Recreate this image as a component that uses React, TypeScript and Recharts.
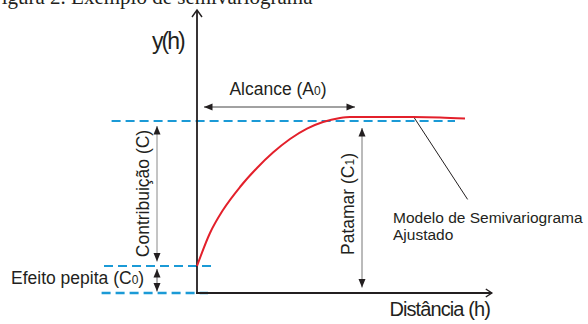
import React from "react"
import { ComposedChart, Line, XAxis, YAxis, ReferenceLine, ReferenceDot } from "recharts"

// fitted semivariogram model
const distance = [0, 0.65, 1.3, 2.15, 3.0, 3.8, 4.65, 5.5, 6.3, 7.15, 7.65, 9.15, 10.8, 12.15, 13.4]
const semivariance = [1.35, 3.0, 4.15, 5.3, 6.25, 7.02, 7.7, 8.22, 8.55, 8.75, 8.8, 8.8, 8.8, 8.78, 8.72]

// model parameters
const nugget = 1.35 // C0
const sill = 8.6 // C0 + C
const range = 7.9 // A0

const title = "Figura 2. Exemplo de semivariograma"
const yLabel = "y(h)"
const xLabel = "Distância (h)"
const modelLabel = ["Modelo de Semivariograma", "Ajustado"]

const data = distance.map((h, i) => ({ h, gamma: semivariance[i] }))

const W = 588
const H = 324
const PX = 20 // pixels per unit
const ORIGIN_X = 197
const ORIGIN_Y = 293

const ink = "#231f20"
const blue = "#1b9ad6"
const red = "#e3202b"
const sans = "'Liberation Sans', Arial, sans-serif"

type Head = "tri" | "chev" | null

const arrow =
  (start: Head, end: Head, shaft: string, gapStart = 0, gapEnd = 0, w = 1, chevL = 7, chevW = 5) =>
  (p: any) => {
    const dx = p.x2 - p.x1
    const dy = p.y2 - p.y1
    const len = Math.hypot(dx, dy) || 1
    const ux = dx / len
    const uy = dy / len
    const ax = p.x1 + ux * gapStart
    const ay = p.y1 + uy * gapStart
    const bx = p.x2 - ux * gapEnd
    const by = p.y2 - uy * gapEnd
    const head = (tx: number, ty: number, dx: number, dy: number, kind: Head) => {
      const L = kind === "tri" ? 8.5 : chevL
      const hw = kind === "tri" ? 3.5 : chevW
      const cx = tx - dx * L
      const cy = ty - dy * L
      const nx = -dy
      const ny = dx
      const pts = `${cx + nx * hw},${cy + ny * hw} ${tx},${ty} ${cx - nx * hw},${cy - ny * hw}`
      return kind === "tri" ? (
        <polygon points={pts} fill={ink} />
      ) : (
        <polyline points={pts} fill="none" stroke={ink} strokeWidth={w * 0.8} />
      )
    }
    return (
      <g>
        <line x1={ax} y1={ay} x2={bx} y2={by} stroke={shaft} strokeWidth={w} />
        {start && head(ax, ay, -ux, -uy, start)}
        {end && head(bx, by, ux, uy, end)}
      </g>
    )
  }

const label =
  (content: React.ReactNode, opts: { size?: number; anchor?: string; rotate?: boolean; spacing?: number; font?: string } = {}) =>
  (p: any) =>
    (
      <text
        x={p.cx}
        y={p.cy}
        fill={ink}
        fontFamily={opts.font ?? sans}
        fontSize={opts.size ?? 17.5}
        letterSpacing={opts.spacing ?? 0}
        textAnchor={opts.anchor ?? "start"}
        transform={opts.rotate ? `rotate(-90 ${p.cx} ${p.cy})` : undefined}
      >
        {content}
      </text>
    )

const sub = (t: string) => <tspan fontSize={12}>{t}</tspan>

export default function App() {
  return (
    <div style={{ position: "absolute", left: 0, top: 0, width: W, height: H }}>
      <ComposedChart width={W} height={H} data={data} margin={{ top: 0, right: 0, bottom: 0, left: 0 }}>
        <XAxis dataKey="h" type="number" hide allowDataOverflow domain={[-ORIGIN_X / PX, (W - ORIGIN_X) / PX]} />
        <YAxis type="number" hide allowDataOverflow domain={[-(H - ORIGIN_Y) / PX, ORIGIN_Y / PX]} />

        {/* dashed guides */}
        <ReferenceLine ifOverflow="visible" segment={[{ x: -4.27, y: sill }, { x: 12.9, y: sill }]} stroke={blue} strokeWidth={2.2} strokeDasharray="9 5" />
        <ReferenceLine ifOverflow="visible" segment={[{ x: -4.65, y: nugget }, { x: 0.8, y: nugget }]} stroke={blue} strokeWidth={2.2} strokeDasharray="9 5" />
        <ReferenceLine ifOverflow="visible" segment={[{ x: -4.77, y: 0 }, { x: 0.55, y: 0 }]} stroke={blue} strokeWidth={2.4} strokeDasharray="9 5" />

        {/* axes */}
        <ReferenceLine ifOverflow="visible" segment={[{ x: 0, y: 0 }, { x: 0, y: 14.15 }]} shape={arrow(null, "chev", ink, 0, 0, 1.8, 7, 5)} />
        <ReferenceLine ifOverflow="visible" segment={[{ x: -0.05, y: 0 }, { x: 14.74, y: 0 }]} shape={arrow(null, "chev", ink, 0, 0, 1.8, 6, 4)} />

        {/* dimension arrows */}
        <ReferenceLine ifOverflow="visible" segment={[{ x: 0, y: 9.3 }, { x: range, y: 9.3 }]} shape={arrow("tri", "tri", "#444", 7, 0)} />
        <ReferenceLine ifOverflow="visible" segment={[{ x: -2.0, y: sill }, { x: -2.0, y: nugget }]} shape={arrow("tri", "tri", "#8a8a8a", 5, 4.5)} />
        <ReferenceLine ifOverflow="visible" segment={[{ x: -2.0, y: nugget }, { x: -2.0, y: 0 }]} shape={arrow("tri", "tri", "#666", 3, 1.5)} />
        <ReferenceLine ifOverflow="visible" segment={[{ x: 8.25, y: sill }, { x: 8.25, y: 0 }]} shape={arrow("tri", "tri", "#777", 7, 5.5)} />

        {/* leader to model curve */}
        <ReferenceLine ifOverflow="visible" segment={[{ x: 10.85, y: 8.78 }, { x: 13.53, y: 4.68 }]} stroke={ink} strokeWidth={1} />

        <Line dataKey="gamma" type="monotone" stroke={red} strokeWidth={2} dot={false} activeDot={false} isAnimationActive={false} />

        {/* texts */}
        <ReferenceDot ifOverflow="visible" x={-10.35} y={14.475} r={0} shape={label(title, { size: 21, font: "'Liberation Serif', 'Times New Roman', serif" })} />
        <ReferenceDot ifOverflow="visible" x={-2.25} y={12.2} r={0} shape={label(yLabel, { size: 23, spacing: -2 })} />
        <ReferenceDot ifOverflow="visible" x={4.05} y={9.9} r={0} shape={label(<>Alcance (A{sub("0")})</>, { anchor: "middle" })} />
        <ReferenceDot ifOverflow="visible" x={-2.4} y={(sill + nugget) / 2} r={0} shape={label("Contribuição (C)", { anchor: "middle", rotate: true })} />
        <ReferenceDot ifOverflow="visible" x={7.85} y={4.45} r={0} shape={label(<>Patamar (C{sub("1")})</>, { anchor: "middle", rotate: true })} />
        <ReferenceDot ifOverflow="visible" x={-9.3} y={0.45} r={0} shape={label(<>Efeito pepita (C{sub("0")})</>)} />
        <ReferenceDot ifOverflow="visible" x={9.8} y={3.5} r={0} shape={label(modelLabel[0], { size: 15.5 })} />
        <ReferenceDot ifOverflow="visible" x={9.8} y={2.65} r={0} shape={label(modelLabel[1], { size: 15.5 })} />
        <ReferenceDot ifOverflow="visible" x={14.65} y={-1.15} r={0} shape={label(xLabel, { size: 20, spacing: -0.9, anchor: "end" })} />
      </ComposedChart>
    </div>
  )
}
